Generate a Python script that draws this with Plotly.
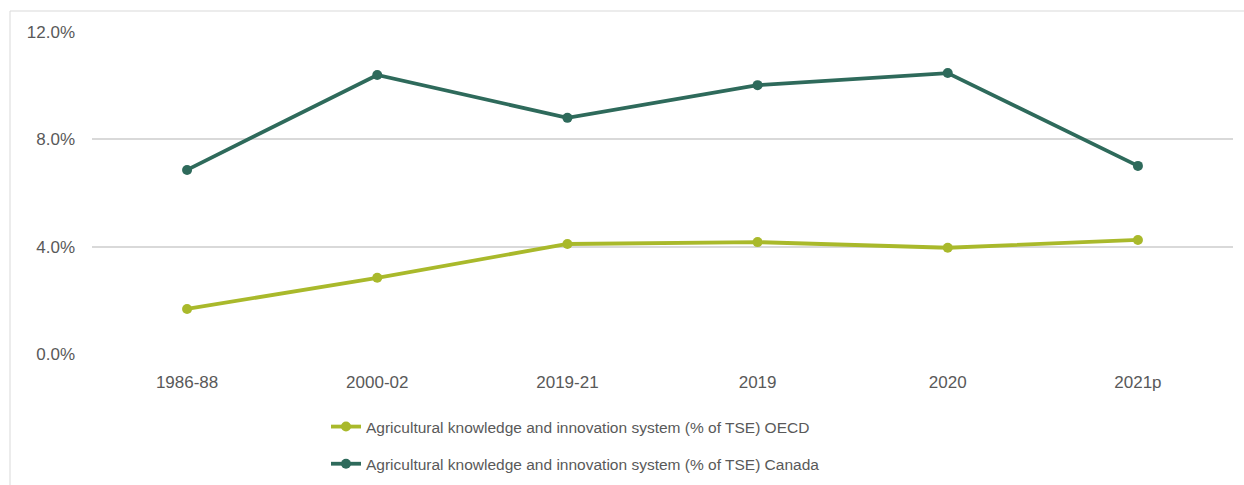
import plotly.graph_objects as go

categories = ["1986-88", "2000-02", "2019-21", "2019", "2020", "2021p"]
oecd = [0.0168, 0.0284, 0.0410, 0.0417, 0.0396, 0.0425]
canada = [0.0686, 0.1040, 0.0880, 0.1002, 0.1047, 0.0701]
name_oecd = "Agricultural knowledge and innovation system (% of TSE) OECD"
name_canada = "Agricultural knowledge and innovation system (% of TSE) Canada"

W, H = 1244, 485
L, R, T, B = 92, 11, 32, 131
pw, ph = W - L - R, H - T - B

def px(x):
    return (x - L) / pw

def py(y):
    return (H - B - y) / ph

fig = go.Figure()
fig.add_trace(go.Scatter(x=categories, y=oecd, name=name_oecd, mode="lines+markers",
                         line=dict(color="#A9B92B", width=3.8), marker=dict(size=10, color="#A9B92B"),
                         legendgroup="a"))
fig.add_trace(go.Scatter(x=categories, y=canada, name=name_canada, mode="lines+markers",
                         line=dict(color="#2E6A5B", width=3.8), marker=dict(size=10, color="#2E6A5B"),
                         legendgroup="b"))

font_family = "Liberation Sans, Arial, sans-serif"
fig.update_layout(
    width=W, height=H,
    margin=dict(l=L, r=R, t=T, b=B, autoexpand=False),
    paper_bgcolor="white", plot_bgcolor="white",
    font=dict(family=font_family, color="#595959", size=17),
    showlegend=True,
    legend=dict(x=px(326), y=py(410), xanchor="left", yanchor="top",
                font=dict(size=15.5, color="#595959"), tracegroupgap=14,
                bgcolor="rgba(0,0,0,0)"),
    xaxis=dict(range=[-0.5, 5.5], showgrid=False, zeroline=False, showline=False, ticks="",
               tickfont=dict(size=17, color="#595959"), ticklabelstandoff=16),
    yaxis=dict(range=[0, 0.12], tickvals=[0, 0.04, 0.08, 0.12], tickformat=".1%",
               showgrid=True, gridcolor="#D9D9D9", gridwidth=1.5, zeroline=False,
               showline=False, tickfont=dict(size=17, color="#595959"), ticklabelstandoff=16),
    shapes=[dict(type="rect", xref="paper", yref="paper", x0=px(10), x1=px(1260),
                 y0=py(500), y1=py(11), line=dict(color="#D9D9D9", width=1),
                 fillcolor="rgba(0,0,0,0)", layer="below")],
)

fig.write_html("out.html")
